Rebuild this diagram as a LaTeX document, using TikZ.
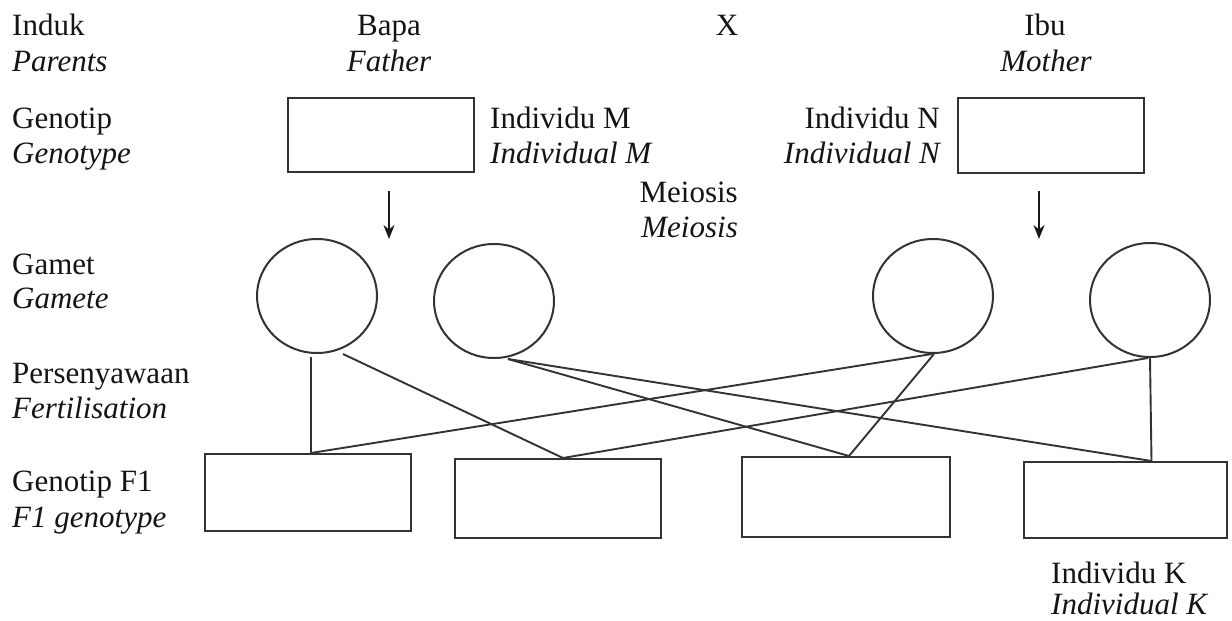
\documentclass[tikz,border=0pt]{standalone}
\usepackage{fontspec}
\setmainfont{Liberation Serif}
\usetikzlibrary{arrows.meta,shapes.geometric}
\begin{document}
\begin{tikzpicture}[x=1pt,y=-1pt,
  ink/.style={draw=black!80,line width=2pt},
  lbl/.style={inner sep=0pt,text=black!92,font=\fontsize{31pt}{37pt}\selectfont},
  pbox/.style={ink,rectangle,inner sep=0pt},
  gam/.style={ink,ellipse,inner sep=0pt,minimum width=120pt,minimum height=114pt},
  link/.style={ink,line width=1.9pt},
  meio/.style={draw=black!90,line width=2pt,-{Stealth[length=14pt,width=11pt]}}
]
\useasboundingbox (0,0) rectangle (1232,621);
% left column labels
\node[lbl,anchor=base west] (l1a) at (12,35) {Induk};
\node[lbl,anchor=base west] (l1b) at (12,71) {\itshape Parents};
\node[lbl,anchor=base west] (l2a) at (12,128) {Genotip};
\node[lbl,anchor=base west] (l2b) at (12,163) {\itshape Genotype};
\node[lbl,anchor=base west] (l3a) at (12,274) {Gamet};
\node[lbl,anchor=base west] (l3b) at (12,308) {\itshape Gamete};
\node[lbl,anchor=base west] (l4a) at (12,383) {Persenyawaan};
\node[lbl,anchor=base west] (l4b) at (12,418) {\itshape Fertilisation};
\node[lbl,anchor=base west] (l5a) at (12,491) {Genotip F1};
\node[lbl,anchor=base west] (l5b) at (12,527) {\itshape F1 genotype};
% parents
\node[lbl,anchor=base] (bapa) at (389,35) {Bapa};
\node[lbl,anchor=base] (father) at (389,71) {\itshape Father};
\node[lbl,anchor=base] (cross) at (727,35) {X};
\node[lbl,anchor=base] (ibu) at (1045,35) {Ibu};
\node[lbl,anchor=base] (mother) at (1046,71) {\itshape Mother};
% genotype boxes
\node[pbox,minimum width=186pt,minimum height=74pt] (pf) at (381,135) {};
\node[pbox,minimum width=186pt,minimum height=75pt] (pm) at (1051,135.5) {};
\node[lbl,anchor=base west] (im1) at (490,128) {Individu M};
\node[lbl,anchor=base west] (im2) at (490,163) {\itshape Individual M};
\node[lbl,anchor=base east] (in1) at (940,128) {Individu N};
\node[lbl,anchor=base east] (in2) at (940,163) {\itshape Individual N};
\node[lbl,anchor=base east] (me1) at (738,202) {Meiosis};
\node[lbl,anchor=base east] (me2) at (738,237) {\itshape Meiosis};
% meiosis arrows
\coordinate (af1) at (389,191);
\coordinate (af2) at (389,239);
\coordinate (am1) at (1039,191);
\coordinate (am2) at (1039,239);
\draw[meio] (af1) -- (af2);
\draw[meio] (am1) -- (am2);
% gametes
\node[gam] (c1) at (317,296) {};
\node[gam] (c2) at (494,301) {};
\node[gam] (c3) at (933,296) {};
\node[gam] (c4) at (1150,300) {};
% F1 boxes
\node[pbox,minimum width=206pt,minimum height=77pt] (b1) at (308,492.5) {};
\node[pbox,minimum width=206pt,minimum height=79pt] (b2) at (558,498.5) {};
\node[pbox,minimum width=208pt,minimum height=80pt] (b3) at (846,497) {};
\node[pbox,minimum width=203pt,minimum height=76pt] (b4) at (1125.5,500) {};
\node[lbl,anchor=base west] (ik1) at (1051,583) {Individu K};
\node[lbl,anchor=base west] (ik2) at (1051,614) {\itshape Individual K};
% fertilisation lines
\draw[link] ([xshift=-6pt,yshift=-3pt]c1.south) -- ([xshift=3pt]b1.north);
\draw[link] ([xshift=26pt]c1.south) -- ([xshift=5pt]b2.north);
\draw[link] ([xshift=14pt]c2.south) -- ([xshift=3pt]b3.north);
\draw[link] ([xshift=14pt]c2.south) -- ([xshift=26pt]b4.north);
\draw[link] ([xshift=-1pt]c3.south) -- ([xshift=3pt]b1.north);
\draw[link] ([xshift=1pt]c3.south) -- ([xshift=3pt]b3.north);
\draw[link] ([xshift=-2pt]c4.south) -- ([xshift=5pt]b2.north);
\draw[link] (c4.south) -- ([xshift=26pt]b4.north);
\end{tikzpicture}
\end{document}
